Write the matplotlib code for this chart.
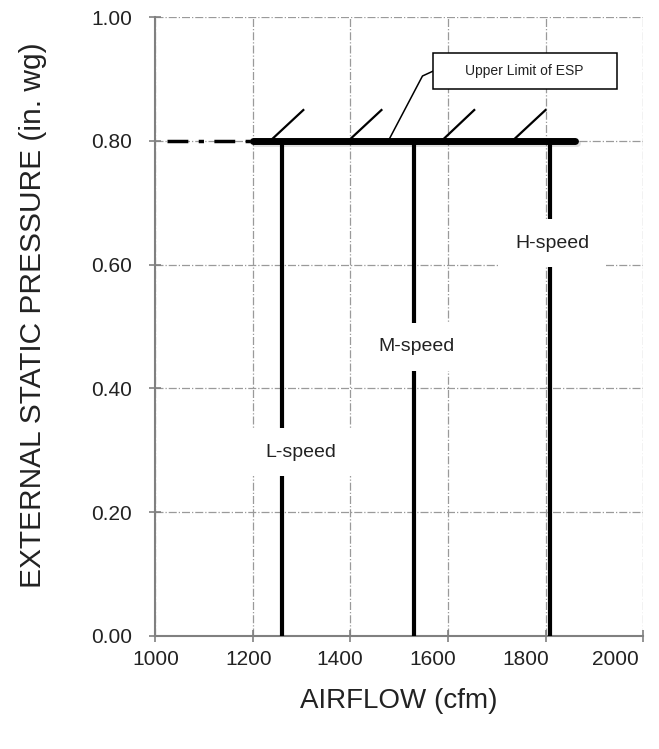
import matplotlib.pyplot as plt
import matplotlib.patheffects as pe
from matplotlib.patches import Rectangle
from matplotlib.transforms import ScaledTranslation

plt.rcParams['font.family'] = ['Liberation Sans', 'DejaVu Sans']

# fan speed taps: airflow (cfm) at which each curve runs vertically
speed_names = ['L-speed', 'M-speed', 'H-speed']
speed_cfm = [1260, 1530, 1810]
speed_label_cfm = [1299, 1536, 1814]
speed_label_esp = [0.297, 0.467, 0.635]

# upper limit of external static pressure
esp_limit = 0.80
limit_start = 1200
limit_end = 1860
extension_start = 1025

# hatch marks on the limit line (start x, end x, top y)
hatch_x0 = [1236, 1396, 1587, 1732]
hatch_x1 = [1304, 1464, 1654, 1800]
hatch_top = 0.85

# callout leader and box
leader_x = [1478, 1548, 1570]
leader_y = [0.80, 0.905, 0.913]
box_x = [1570, 1946]
box_y = [0.884, 0.942]
callout_text = 'Upper Limit of ESP'

x_ticks = [1000, 1200, 1400, 1600, 1800, 2000]
y_ticks = [0.0, 0.2, 0.4, 0.6, 0.8, 1.0]

fig = plt.figure(figsize=(6.59, 7.49), dpi=100)
ax = fig.add_axes([0.235, 0.151, 0.741, 0.826])

ax.set_xlim(1000, 2000)
ax.set_ylim(0, 1.0)
ax.set_xticks(x_ticks)
ax.set_yticks(y_ticks)
ax.set_xticklabels([str(t) for t in x_ticks])
ax.set_yticklabels([f'{t:.2f}' for t in y_ticks])
ax.grid(True, color='#9a9a9a', linestyle='-.', linewidth=0.9)
ax.set_axisbelow(True)

for side in ['top', 'right']:
    ax.spines[side].set_visible(False)
for side in ['left', 'bottom']:
    ax.spines[side].set_color('#808080')
    ax.spines[side].set_linewidth(1.5)
ax.tick_params(direction='inout', length=9, width=1.2, color='#808080',
               labelsize=15, labelcolor='#222222')
ax.tick_params(axis='y', pad=12)
ax.tick_params(axis='x', pad=6)

# x labels drift slightly left in the original, the last one most of all
x_label_shift_px = [1, -4, -10, -15, -20, -28]
for lab, px in zip(ax.get_xticklabels(), x_label_shift_px):
    lab.set_transform(lab.get_transform() + ScaledTranslation(px / fig.dpi, 0, fig.dpi_scale_trans))

# vertical speed lines
for cfm in speed_cfm:
    ax.plot([cfm, cfm], [0, esp_limit], color='black', linewidth=3, zorder=3)

# extension of limit line (dash-dot)
ax.plot([extension_start, limit_start], [esp_limit, esp_limit], color='black',
        linewidth=2.5, linestyle=(0, (6, 3, 1.5, 3)), zorder=3)

# thick limit line with a soft shadow
ax.plot([limit_start, limit_end], [esp_limit, esp_limit], color='black',
        linewidth=5, solid_capstyle='round', zorder=4,
        path_effects=[pe.SimpleLineShadow(offset=(1.5, -1.5), alpha=0.12), pe.Normal()])

# hatch marks
for x0, x1 in zip(hatch_x0, hatch_x1):
    ax.plot([x0, x1], [esp_limit, hatch_top], color='black', linewidth=1.6, zorder=4)

# callout
ax.plot(leader_x, leader_y, color='black', linewidth=1.1, zorder=4)
ax.add_patch(Rectangle((box_x[0], box_y[0]), box_x[1] - box_x[0], box_y[1] - box_y[0],
                       facecolor='white', edgecolor='black', linewidth=1.1, zorder=5))
ax.text(sum(box_x) / 2 - 2, sum(box_y) / 2, callout_text, fontsize=10,
        ha='center', va='center', color='#222222', zorder=6)

# speed labels sitting on the lines
for name, x, y in zip(speed_names, speed_label_cfm, speed_label_esp):
    ax.text(x, y, name, fontsize=14, ha='center', va='center',
            color='#222222', zorder=5,
            bbox=dict(boxstyle='square,pad=0.8', facecolor='white', edgecolor='none'))

ax.set_xlabel('AIRFLOW (cfm)', fontsize=20, color='#222222', labelpad=13)
ax.set_ylabel('EXTERNAL STATIC PRESSURE (in. wg)', fontsize=21.5, color='#222222')
ax.yaxis.set_label_coords(-0.22, 0.519)

fig.savefig('out.png', dpi=100)
